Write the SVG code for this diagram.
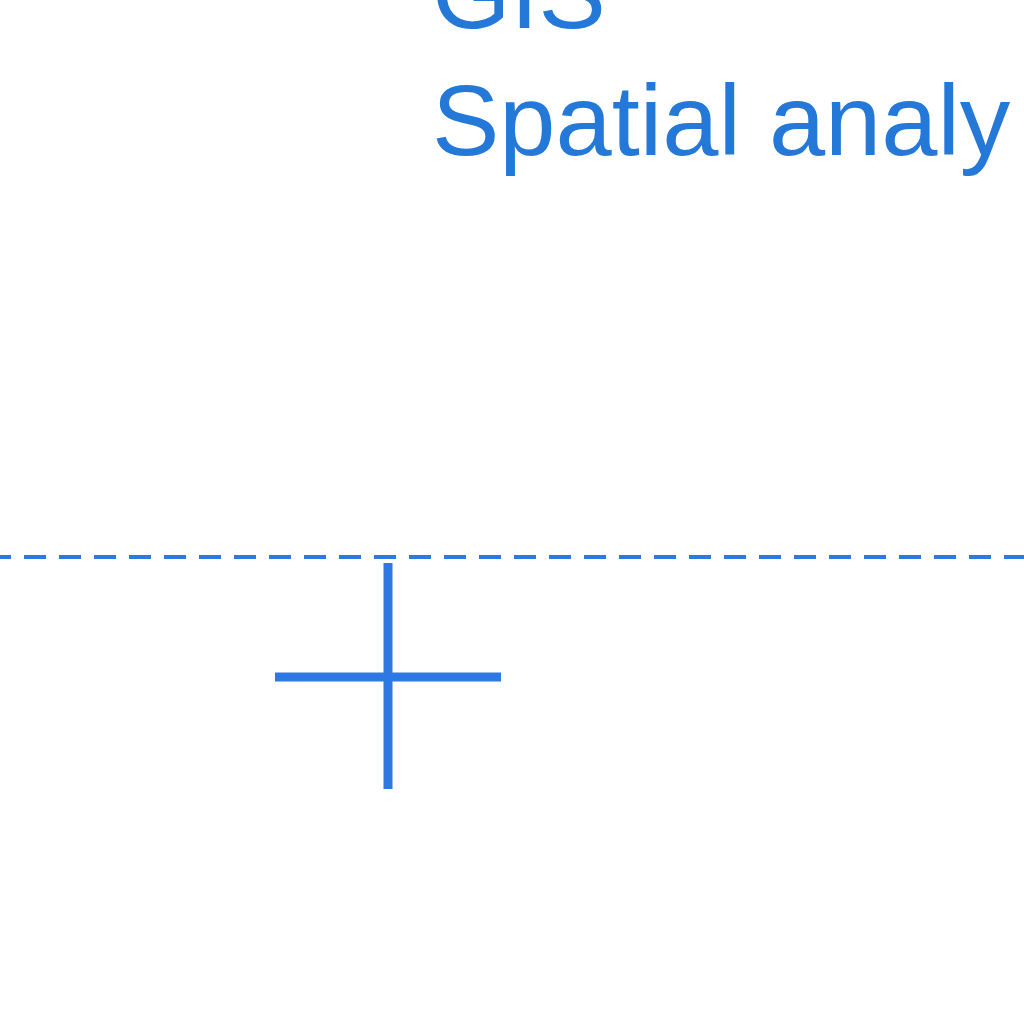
<svg xmlns="http://www.w3.org/2000/svg" width="1024" height="1024" viewBox="0 0 1024 1024">
  <style>
    .lbl { font-family: "Liberation Sans", Arial, sans-serif; font-size: 101px; fill: #2479d8; }
    .ln { stroke: #2e78e4; fill: none; }
  </style>
  <rect width="1024" height="1024" fill="#ffffff"/>
  <g id="labels">
    <text class="lbl" x="432" y="28">GIS</text>
    <text class="lbl" x="432" y="155">Spatial analy</text>
  </g>
  <g id="connectors">
    <line class="ln" x1="-11" y1="557" x2="1030" y2="557" stroke-width="4" stroke-dasharray="22 13"/>
  </g>
  <g id="plus">
    <line class="ln" x1="388" y1="563" x2="388" y2="789" stroke-width="9"/>
    <line class="ln" x1="275" y1="677" x2="501" y2="677" stroke-width="9"/>
  </g>
</svg>
